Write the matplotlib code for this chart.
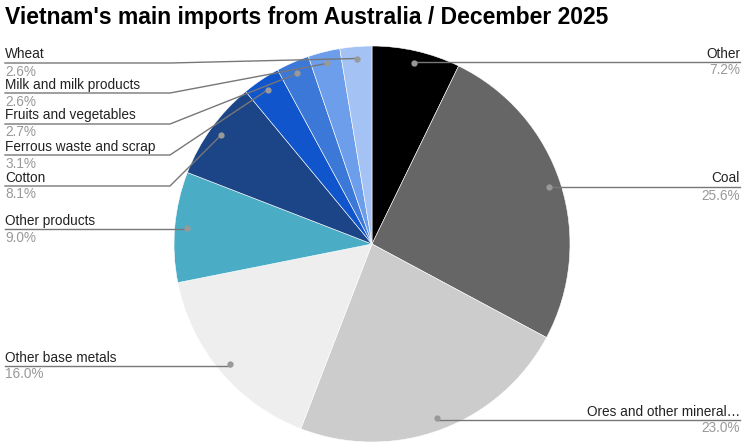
import matplotlib.pyplot as plt
import numpy as np

plt.rcParams['font.family'] = ['Liberation Sans', 'DejaVu Sans']

# slices, clockwise from 12 o'clock
labels = ["Other", "Coal", "Ores and other mineral…", "Other base metals",
          "Other products", "Cotton", "Ferrous waste and scrap",
          "Fruits and vegetables", "Milk and milk products", "Wheat"]
shares = [7.2, 25.6, 23.0, 16.0, 9.0, 8.1, 3.1, 2.7, 2.6, 2.6]
colors = ["#000000", "#666666", "#cccccc", "#eeeeee", "#4bacc6",
          "#1c4587", "#1155cc", "#3c78d8", "#6d9eeb", "#a4c2f4"]

# label placement (pixel rows of the leader lines, from the top)
W, H = 745, 447
side = ["right", "right", "right", "left", "left", "left", "left", "left", "left", "left"]
line_y = [62, 187, 420, 366, 229, 186, 155, 124, 93, 63]
elbow_x = 170


def Y(py):
    return H - py


fig = plt.figure(figsize=(W / 100, H / 100), dpi=100)
ax = fig.add_axes([0, 0, 1, 1])

cx, cy, r = 372, Y(244), 198
wedges, _ = ax.pie(shares, colors=colors, startangle=90, counterclock=False,
                   center=(cx, cy), radius=r,
                   wedgeprops=dict(linewidth=0.4, edgecolor="white"))

for w, lab, val, s, ly in zip(wedges, labels, shares, side, line_y):
    mid = np.deg2rad((w.theta1 + w.theta2) / 2)
    dx = cx + 0.94 * r * np.cos(mid)
    dy = cy + 0.94 * r * np.sin(mid)
    yl = Y(ly)
    if s == "left":
        if dx > elbow_x + 20 and abs(dy - yl) > 3:
            ax.plot([5, elbow_x, dx], [yl, yl, dy], color="#777777", lw=1, zorder=3)
        else:
            ax.plot([5, dx], [yl, yl], color="#777777", lw=1, zorder=3)
        tx, ha = 5, "left"
    else:
        ax.plot([dx, 740], [yl, yl], color="#777777", lw=1, zorder=3)
        tx, ha = 740, "right"
    ax.plot(dx, dy, "o", color="#999999", ms=3.5, zorder=4)
    ax.text(tx, yl + 1.5, lab, ha=ha, va="bottom", fontsize=9.8, color="#222222")
    ax.text(tx, yl - 1.5, "{:.1f}%".format(val), ha=ha, va="top", fontsize=9.8, color="#999999")

ax.set_xlim(0, W)
ax.set_ylim(0, H)
ax.set_aspect("equal")
ax.axis("off")

fig.text(5 / W, 1 - 6 / H, "Vietnam's main imports from Australia / December 2025",
         ha="left", va="top", fontsize=16.5, fontweight="bold", color="#000000")

fig.savefig("out.png", dpi=100)
